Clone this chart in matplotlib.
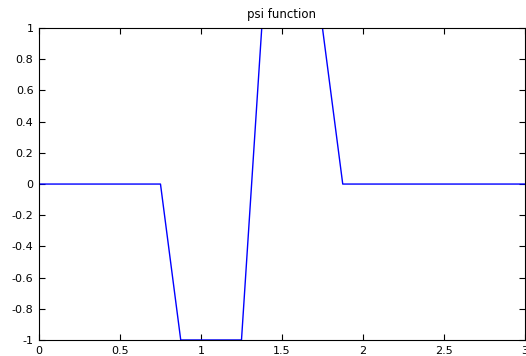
import matplotlib
matplotlib.use('Agg')
import matplotlib.pyplot as plt

# sample points of the psi function
x = [0, 0.75, 0.875, 1.25, 1.375, 1.75, 1.875, 3]
psi = [0, 0, -1, -1, 1, 1, 0, 0]

xticks = [0, 0.5, 1, 1.5, 2, 2.5, 3]
yticks = [-1, -0.8, -0.6, -0.4, -0.2, 0, 0.2, 0.4, 0.6, 0.8, 1]

plt.rcParams['font.family'] = ['DejaVu Sans']

fig = plt.figure(figsize=(5.26, 3.56), dpi=100)
ax = fig.add_axes([0.0741, 0.045, 0.924, 0.876])
ax.plot(x, psi, color='#0000ff', linewidth=1.0)
ax.set_xlim(0, 3)
ax.set_ylim(-1, 1)
ax.set_xticks(xticks)
ax.set_xticklabels(['0', '0.5', '1', '1.5', '2', '2.5', '3'])
ax.set_yticks(yticks)
ax.set_yticklabels(['-1', '-0.8', '-0.6', '-0.4', '-0.2', '0', '0.2', '0.4', '0.6', '0.8', '1'])
ax.tick_params(direction='in', top=True, right=True, length=4, width=0.8, labelsize=8, pad=4)
for s in ax.spines.values():
    s.set_linewidth(0.8)
ax.set_title('psi function', fontsize=8.5, pad=7)

fig.savefig('out.png', dpi=100)
